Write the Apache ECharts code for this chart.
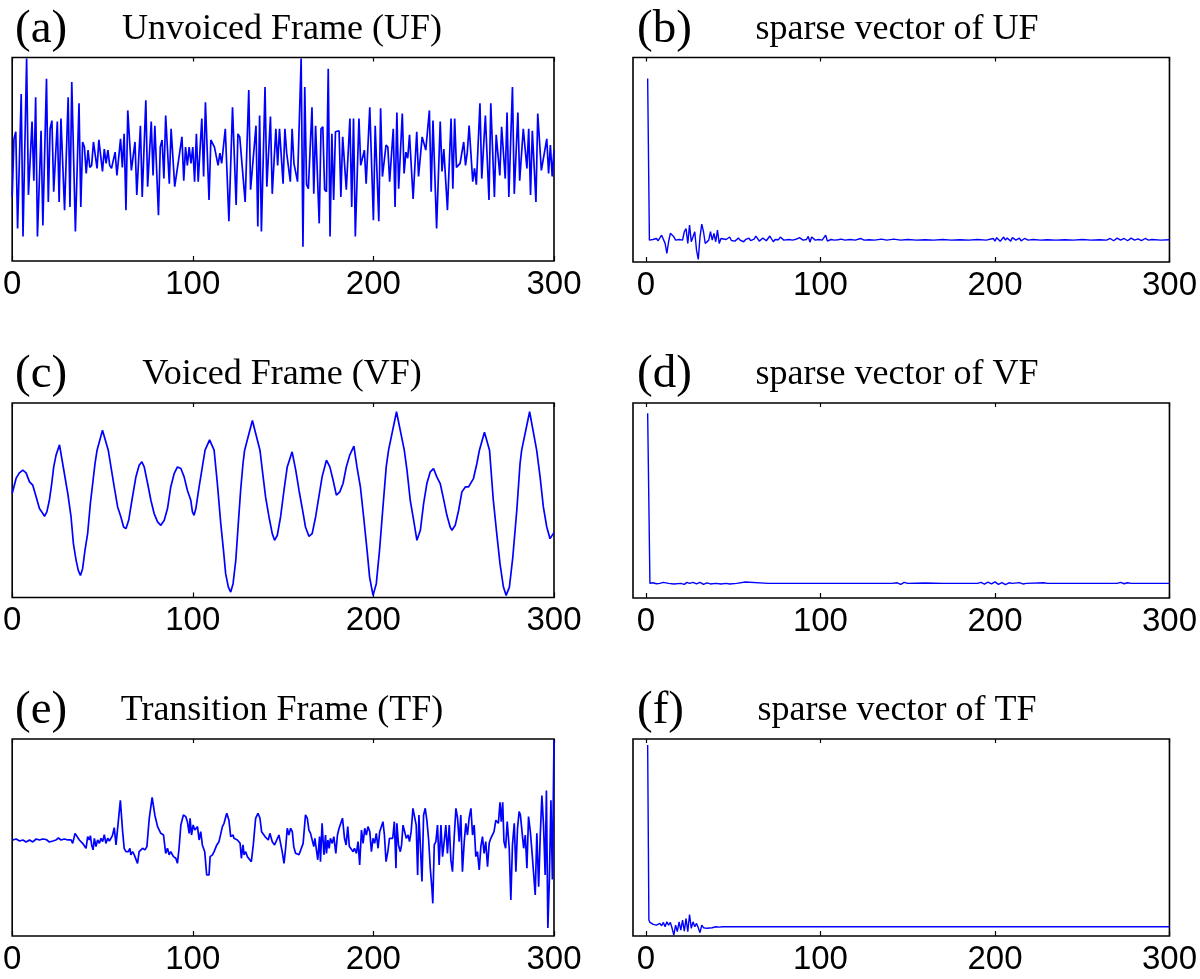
<!DOCTYPE html>
<html><head><meta charset="utf-8">
<script src="https://cdn.jsdelivr.net/npm/echarts@6/dist/echarts.min.js"></script>
<style>html,body{margin:0;padding:0;background:#fff}#c{width:1200px;height:979px}</style>
</head><body><div id="c"></div><script>
// ---------- data (sample index, amplitude in arbitrary units) ----------
const xTicks = [0, 100, 200, 300];
const panelLetters = ['(a)', '(b)', '(c)', '(d)', '(e)', '(f)'];
const panelTitles = ['Unvoiced Frame (UF)', 'sparse vector of UF', 'Voiced Frame (VF)', 'sparse vector of VF', 'Transition Frame (TF)', 'sparse vector of TF'];

const unvoicedFrame = [[0,-37],[1,20],[2,27],[3,-68],[5,64],[6,-76],[8,99],[9,-35],[11,37],[12,-21],[13,61],[14,-76],[16,28],[17,-65],[19,79],[20,-42],[21,30],[22,38],[23,-32],[25,37],[26,-42],[27,40],[29,-50],[31,61],[32,-47],[33,76],[35,-71],[37,55],[38,-47],[39,17],[40,12],[41,-14],[42,9],[43,-8],[44,-6],[45,17],[47,-9],[48,19],[50,-12],[51,10],[52,-4],[53,9],[54,-6],[55,-9],[57,7],[58,-16],[60,20],[61,-8],[62,25],[63,-50],[64,48],[66,-11],[68,17],[69,-35],[71,33],[72,-37],[74,58],[75,-27],[77,37],[78,-16],[79,33],[81,-55],[82,12],[83,19],[84,-19],[85,43],[87,-24],[88,30],[90,-27],[94,22],[95,-21],[96,12],[97,-6],[98,12],[99,-4],[100,12],[101,-22],[102,25],[103,-22],[105,40],[106,-17],[107,56],[109,-40],[110,19],[112,12],[114,-6],[115,6],[116,-4],[118,30],[120,-61],[122,51],[124,-45],[125,25],[126,22],[129,-42],[131,68],[132,-30],[135,33],[136,-66],[137,43],[138,-71],[140,71],[141,-27],[143,42],[144,-34],[146,30],[147,-6],[148,30],[150,-24],[151,30],[152,6],[154,-22],
[155,30],[156,-4],[158,-22],[160,99],[161,-86],[162,71],[163,-25],[164,-29],[166,51],[167,-34],[168,33],[170,-63],[171,30],[172,32],[173,-30],[174,-32],[175,89],[176,-76],[177,25],[178,-40],[179,27],[181,28],[182,-37],[183,22],[185,-30],[187,40],[188,-47],[189,40],[190,-76],[192,40],[193,-6],[195,9],[196,-24],[198,51],[200,-60],[201,33],[203,-61],[204,50],[205,-17],[207,14],[208,12],[209,-22],[211,30],[212,-47],[213,46],[214,-29],[216,45],[217,-14],[218,7],[219,1],[220,24],[222,-39],[224,27],[225,-17],[227,22],[229,9],[231,48],[232,-32],[233,38],[235,-68],[237,37],[238,-12],[239,10],[241,-50],[243,40],[244,-29],[245,40],[246,-8],[248,-4],[250,17],[251,-6],[252,7],[253,33],[255,-22],[256,-9],[257,-25],[259,55],[260,-19],[262,43],[264,-40],[265,55],[267,-37],[268,24],[270,-16],[271,32],[273,-19],[274,46],[275,-37],[277,71],[278,-34],[280,46],[281,-21],[283,30],[285,-9],[286,30],[287,-35],[288,28],[290,-42],[291,45],[293,-11],[296,20],[297,-14],[298,14],[299,-17],[300,9]];

const sparseUF = [[1,79],[2,0],[4,0.3],[6,0.8],[7,-0.3],[9,2.4],[10,3.3],[11,-1.6],[12,-6.5],[13,-0.8],[14,3.3],[15,4.1],[16,1.6],[17,0],[18,-0.3],[19,0.3],[21,0],[22,4.1],[23,5.7],[24,-1.6],[25,7.3],[26,-0.8],[27,0],[28,4.1],[29,-4.9],[30,-9.4],[31,1.6],[32,7.8],[33,4.1],[34,-1.6],[35,-2.4],[36,0],[37,4.1],[38,0],[39,3.3],[40,-0.8],[41,4.9],[42,-1.6],[43,0.8],[44,0],[46,0.3],[48,1.5],[49,-0.2],[51,-0.5],[53,1],[54,0],[56,-0.8],[57,0.2],[59,1],[60,-0.2],[62,0.5],[63,2],[65,-0.5],[66,0.3],[67,1],[69,-0.3],[71,2],[73,-0.8],[74,0.3],[76,0.2],[77,1.5],[79,0],[80,-0.5],[82,0.3],[84,0],[86,0.4],[88,1.2],[90,0],[92,0.3],[93,1.8],[94,-1],[95,1.5],[97,0],[99,0.3],[101,0],[103,2.4],[104,-0.5],[106,0.3],[108,0],[110,0.2],[112,0.5],[114,0],[117,0.3],[120,0],[123,0.8],[125,0],[128,0.2],[131,0],[135,0.5],[138,0],[142,0.5],[146,0],[150,0.3],[155,0],[160,0.2],[165,0],[170,0.3],[175,0],[180,0.2],[185,0],[190,0.3],[195,0],[199,0.8],[200,-0.5],[201,1.2],[203,-0.6],[205,1.5],[206,0],[207,1],[209,-0.5],[210,1.2],[212,0],[214,1],[215,-0.4],[217,0.8],[219,0],[222,0.3],[226,0],[230,0.2],[235,0],[240,0.2],[245,0],[250,0.3],[255,0],[260,0.2],[264,0],[266,0.8],[268,-0.3],[270,1],[272,0],[274,0.8],[276,-0.3],[278,1],[280,0],[282,0.6],[284,-0.2],[286,0.8],[288,0],[290,0.3],[295,0],[300,0.2]];

const voicedFrame = [[0,6.9],[2.2,22.7],[4,28.1],[5.9,30.9],[7.7,28.1],[9.6,18.9],[11.4,15.5],[13.3,3.4],[15.1,-8.5],[16.4,-12],[17.9,-16.5],[19.2,-12],[20.6,0],[21.9,17.2],[23,34.3],[24.3,46.4],[26.2,57],[28.9,27.5],[30.8,6.9],[32.6,-17.2],[33.9,-44.6],[35.4,-61.8],[36.6,-72.1],[37.8,-77.3],[39,-70.4],[40.3,-51.5],[41.8,-34],[43.3,-3.1],[44.6,17.5],[45.9,38.1],[47,51.5],[50,72],[53.2,51.5],[54.7,34.3],[56.5,13.7],[58.4,-6.9],[60.2,-17.2],[61.7,-27.5],[63,-29.2],[64.5,-20.6],[66.3,0],[68.5,24],[70.3,36],[71.8,39.5],[73.1,34.3],[75,17.2],[76.8,0],[78.6,-13.7],[80.5,-22.3],[82.3,-25.8],[84.2,-20.6],[86,-8.5],[87.8,13.7],[89.7,27.5],[91.5,34.3],[93.4,32.6],[95.2,24],[97,10.3],[98.9,0],[99.8,-12],[100.7,-15.5],[101.7,-8.5],[103.5,13.7],[105.3,34.3],[106.8,51.5],[109.3,62],[111.8,51.5],[113.6,17.2],[115.5,-24],[117,-51.5],[118.2,-75.5],[119.7,-89.3],[121,-94.4],[122.3,-85.8],[123.8,-61.8],[125.2,-24],[126.5,10.3],[127.8,37.8],[128.7,51.5],[133,82],[137.2,51.5],[138.5,30.9],[140.3,3.4],[142.2,-17.2],[144,-34.3],[145.3,-41.2],[146.8,-36],[148.6,-17.2],[150.5,10.3],[152.3,34.3],[155,49.8],[157,30.9],[158.8,10.3],[160.6,-8.2],[162.4,-27.5],[164.3,-37.1],[166.1,-34.3],[168,-17.2],[169.8,3.4],[171.6,24],[174,41.2],[175.9,34.3],[177.7,20.6],[179.5,5.2],[181.4,8.6],[183.2,17.2],[185,34.3],[186.9,46.4],[189.2,55.6],[190.9,34.3],[192.8,13.7],[194.6,-17.2],[196.5,-51.5],[197.9,-79],[199.8,-97.8],[201.6,-85.8],[203.4,-51.5],[205.3,-6.9],[207.1,34.3],[208.4,51.5],[212.8,91],[217.1,51.5],[218.6,30.9],[220.4,0],[222.3,-20.6],[224.1,-41.2],[224.8,-42.9],[226,-30.9],[227.8,-3.4],[229.6,17.2],[231.5,29.2],[233.3,32.6],[235.1,24],[237,17.2],[238.8,1.7],[240.7,-15.5],[242.5,-27.5],[243.5,-30.9],[245.3,-25.8],[247.2,-10.3],[249,8.6],[250.9,13.7],[252.7,13.7],[253.6,12],[255.4,22.3],[257.3,37.8],[258.7,51.5],[261.5,70],[264.3,51.5],[266.4,0],[268.3,-34.3],[270.1,-65.2],[272,-89.3],[273.5,-97.8],[275.3,-89.3],[277.2,-58.4],[279.4,-10.3],[281.2,37.8],[282.1,51.5],[286.5,91],[290.4,51.5],[292.3,24],[294.1,-6.9],[296,-27.5],[297.8,-39.5],[299.6,-34.3],[300,-33]];

const sparseVF = [[1,87.3],[2.3,0],[3,-0.3],[4,0.3],[6,-0.2],[8,0],[10,0.5],[11,-0.3],[13,0],[16,-0.3],[20,0],[22,-0.5],[23.5,0.5],[25,0],[27,0.5],[29,-0.3],[31,0.5],[33,-0.5],[35,0.3],[37,-0.3],[40,0],[43,-0.3],[44,-0.8],[46,0],[48,-0.3],[52,0],[57,0.7],[58,0],[70,0],[90,0],[141,0],[142,-0.7],[144,0.3],[146,-0.5],[148,0.5],[150,0],[160,0.2],[170,0],[190,0],[192,0.5],[194,-0.4],[196,0.6],[198,-0.3],[200,0.8],[202,-0.5],[204,0.4],[206,-0.6],[208,0.3],[210,0],[214,0.4],[216,-0.3],[218,0],[228,0.3],[230,0],[270,0],[272,0.5],[274,-0.2],[276,0.3],[278,0],[300,0]];

const transitionFrame = [[0.4,0],[2.2,1],[4.1,-1],[5.9,0],[7.7,-2],[9.6,0],[11.4,-2],[13.3,1],[15.1,0],[16.9,1],[18.8,0.5],[20.6,-2],[22.5,-1],[24.3,0],[25.6,2],[27.1,0],[28.9,1],[30.8,0],[32.6,0],[33.5,-3.4],[34.8,6.7],[35.9,5],[37.2,0],[38.1,2],[39,-3.4],[40,-1.7],[40.9,-8.4],[41.8,3.4],[42.7,0],[43.3,4.4],[44,-5],[44.8,-10],[45.5,1.7],[46.4,-6.7],[47.3,0],[48.3,-3.4],[49.2,1.7],[50.1,-1.7],[51,5.4],[51.9,-3.4],[52.9,1.7],[53.8,-1],[54.7,1.7],[55.6,5],[56.5,12.5],[57.5,-5],[59.9,40],[61.1,10],[62,-8.4],[63,-11.8],[64.3,-11.8],[65.2,-8.4],[65.7,-15],[66.7,-11.8],[67.6,-15],[68.5,-13.5],[69.4,-23.6],[70.3,-11.8],[71.3,-10],[72.2,-8.4],[73.5,-10],[74.6,-6.7],[75.9,21.9],[77.5,43],[79,25],[80.5,13.5],[82.3,6.7],[83.8,5],[85,-13.5],[86,-8.4],[86.9,-15],[87.8,-11.8],[89.3,-16.8],[90.6,-18.5],[91.5,-23.6],[92.4,-8.4],[93.4,15.2],[94.8,25.3],[96.1,23.6],[97,18.5],[98,6.7],[98.5,21.9],[99.3,5],[100.2,15.2],[101.1,10],[102.6,13.5],[103.5,0],[104.4,8.4],[105.3,-5],[106.6,-11.8],[107.7,-35.4],[109,-35.4],[109.6,-16.8],[110.9,-15],[111.8,-11.8],[113.3,-5],[114.5,-1.7],[115.5,-1.7],[116.4,13.5],[117.3,16.8],[118.8,27],[120,20.2],[121,3.4],[122.3,5],[122.8,1.7],[123.8,3.4],[124.7,0],[126.2,-3.4],[126.9,-18.5],[127.8,-5],[128.4,-15],[129.3,-11.8],[130.2,-16.8],[131.1,-15],[132.4,-21.9],[133.5,-5],[134.8,21.9],[136.1,27],[137.2,21.9],[138.1,8.4],[139,10],[140,3.4],[140.9,5],[141.8,0],[142.7,6.7],[144,-1.7],[145.3,-5],[146.4,-3.4],[147.7,5],[148.6,3.4],[149.5,-11.8],[150.5,-23.6],[151.4,-8.4],[152.3,11.8],[153.2,5],
[154.2,11.8],[155.1,8.4],[155.9,-6.7],[156.9,-13.5],[157.8,-15],[158.8,-15],[159.7,-13.5],[161.1,-3.4],[162.4,25.3],[163.4,22],[164.3,10],[165.2,6.7],[166.1,8.4],[167,-6.7],[167.6,1.7],[169.2,-20],[170.2,3.4],[170.7,-21.9],[171.6,16.8],[172.6,-15],[173.5,5],[174,-13.5],[174.8,0],[175.5,-8.4],[176.2,1.7],[177.2,-3.4],[178.1,3.4],[179.2,-13.5],[180.1,5],[181,11.8],[181.8,13.5],[182.9,22],[184,1.7],[184.9,-5],[185.8,13.5],[186.7,-6.7],[187.7,-5],[188.8,-11.8],[189.5,-8.4],[190.6,-13.5],[191.5,-1.7],[192.4,-25.3],[193.4,10],[194.3,-3.4],[195.2,11.8],[196.1,5],[197,13.5],[198,8.4],[198.9,-11.8],[199.8,1.7],[200.7,-3.4],[201.6,6.7],[202.6,-8.4],[203.5,8.4],[204.4,6.7],[205.3,18.5],[206.1,5],[207,-21.9],[208,-11.8],[208.9,1.7],[209.8,3.4],[210.7,1.7],[211.6,18.5],[212.5,-28.6],[213,16.8],[213.9,-5],[214.9,-11.8],[215.6,-5],[216.4,15],[217.3,8.4],[218.2,1.7],[219.2,5],[220,-1.7],[220.9,8.4],[221.9,32],[222.8,33.7],[223.7,15],[224.5,-35.4],[225.2,25.3],[226,-5],[226.9,-42],[227.8,25.3],[228.7,32],[229.6,20],[230.6,0],[231.5,-28.6],[232.4,-48.9],[232.9,-64],[233.7,-5],[234.6,-1.7],[235.5,15],[236.4,-25.3],[237.4,15],[238.3,-16.8],[239.2,-1.7],[240.1,15],[241,-13.5],[242,15],[242.9,-20],[243.8,-32],[244.7,1.7],[245.7,32],[246.6,22],[247.5,-1.7],[248.4,25.3],[249.3,-32],[250.3,-1.7],[251.2,16.8],[252.1,5],[253,22],[254,32],[254.9,5],[255.8,15],[256.7,-16.8],[257.6,-11.8],[258.6,-30.3],[259.5,-6.7],[260.4,3.4],[261.3,-13.5],[262.2,-1.7],[263.2,-27],[264.1,-3.4],[265,1.7],[265.9,0],[266.8,8.4],[267.8,20],[268.3,18.5],[269.2,16.8],[270.1,38],[270.8,18.5],[271.6,38],[272.3,-1.7],[273.2,-8.4],[274.1,18.5],[275.2,-8.4],[276.1,-60.7],[277,-5],[278,16.8],[278.9,-32],[279.8,11.8],[280.7,28.6],[281.4,25.3],[282.3,8.4],[283.2,-8.4],[284.1,5],[285,-28.6],[285.9,23.6],[286.9,8.4],[287.8,-11.8],[288.7,-13.5],[289.6,-55.6],[290.5,6.7],[291.5,-47.2],[292.4,5],[293.3,45],[294.2,15],[295.1,-35.4],[295.8,50],[296.6,-89],[297.4,-42],[298.3,40],[299.1,-40],[300,101]];

const sparseTF = [[1,92.2],[1.7,3.4],[2.3,2.2],[4.2,1.2],[6,0.8],[8,1.7],[9,0.5],[10,2.2],[11,0],[12,2.5],[13,0.8],[14,2.2],[15,-0.8],[16,-4.2],[17,0.8],[18,-2.5],[19,2.5],[20,-1.7],[21,3.4],[22,-2.2],[23,4.2],[24,-2.5],[25,6.2],[26,-0.8],[27,2.5],[28,0],[29,1.7],[30,-0.5],[31,-3],[32,0.8],[33,-0.5],[34,0.5],[35,-0.8],[36,0],[38,-0.5],[40,0],[42,-0.2],[44,0],[300,0]];

// y ranges per panel
const yRanges = [[-100,100],[-10.7,89.3],[-100,100],[-7.5,92.5],[-97,102],[-4.7,95.3]];
const xMins = [0, -7.4, 0, -7.4, 0, -7.4];
const seriesData = [unvoicedFrame, sparseUF, voicedFrame, sparseVF, transitionFrame, sparseTF];

// ---------- layout ----------
const grids = [
  {left:11, top:57.5, width:543, height:203.5},
  {left:633, top:57.5, width:541, height:204.5},
  {left:11, top:403, width:543, height:194.5},
  {left:633, top:403, width:541, height:195},
  {left:11, top:739, width:543, height:197},
  {left:633, top:739, width:541, height:197}
];
const titleY = [30, 30, 375, 375, 711, 711];
const lineWidths = [1.7, 1.4, 1.7, 1.4, 1.7, 1.4];

const chart = echarts.init(document.getElementById('c'));
const xAxes = [], yAxes = [], series = [], graphics = [];
grids.forEach((g, i) => {
  Object.assign(g, {show:true, borderColor:'#000', borderWidth:1.6, backgroundColor:'transparent', containLabel:false});
  xAxes.push({
    gridIndex:i, type:'value', position:'bottom', min:xMins[i], max:300,
    axisLine:{show:false, onZero:false}, splitLine:{show:false},
    axisTick:{show:true, inside:true, length:5, customValues:xTicks, lineStyle:{color:'#000', width:1.2}},
    axisLabel:{show:true, customValues:xTicks, margin:7, color:'#000', fontSize:33, fontFamily:'"Liberation Sans", Arial, Helvetica, sans-serif', showMinLabel:true, showMaxLabel:true}
  });
  yAxes.push({gridIndex:i, type:'value', min:yRanges[i][0], max:yRanges[i][1], show:true,
    axisLine:{show:false, onZero:false}, axisTick:{show:false}, axisLabel:{show:false}, splitLine:{show:false}});
  series.push({type:'line', xAxisIndex:i, yAxisIndex:i, data:seriesData[i], showSymbol:false, symbol:'none',
    lineStyle:{color:'#0000ff', width:lineWidths[i]}, animation:false, clip:true});
  graphics.push({type:'text', x:g.left + 4, y:titleY[i], style:{text:panelLetters[i], font:'47px "Liberation Serif", "Times New Roman", serif', fill:'#000', textAlign:'left', textVerticalAlign:'middle'}});
  graphics.push({type:'text', x:(i % 2 === 0) ? 282 : 897, y:titleY[i], style:{text:panelTitles[i], font:'36px "Liberation Serif", "Times New Roman", serif', fill:'#000', textAlign:'center', textVerticalAlign:'middle'}});
});
grids.forEach((g, i) => {
  xAxes.push({
    gridIndex:i, type:'value', position:'top', min:xMins[i], max:300,
    axisLine:{show:false, onZero:false}, splitLine:{show:false}, axisLabel:{show:false},
    axisTick:{show:true, inside:true, length:4, customValues:xTicks, lineStyle:{color:'#000', width:1.2}}
  });
});

chart.setOption({
  animation:false,
  backgroundColor:'#fff',
  grid:grids, xAxis:xAxes, yAxis:yAxes, series:series, graphic:graphics
});
</script></body></html>
